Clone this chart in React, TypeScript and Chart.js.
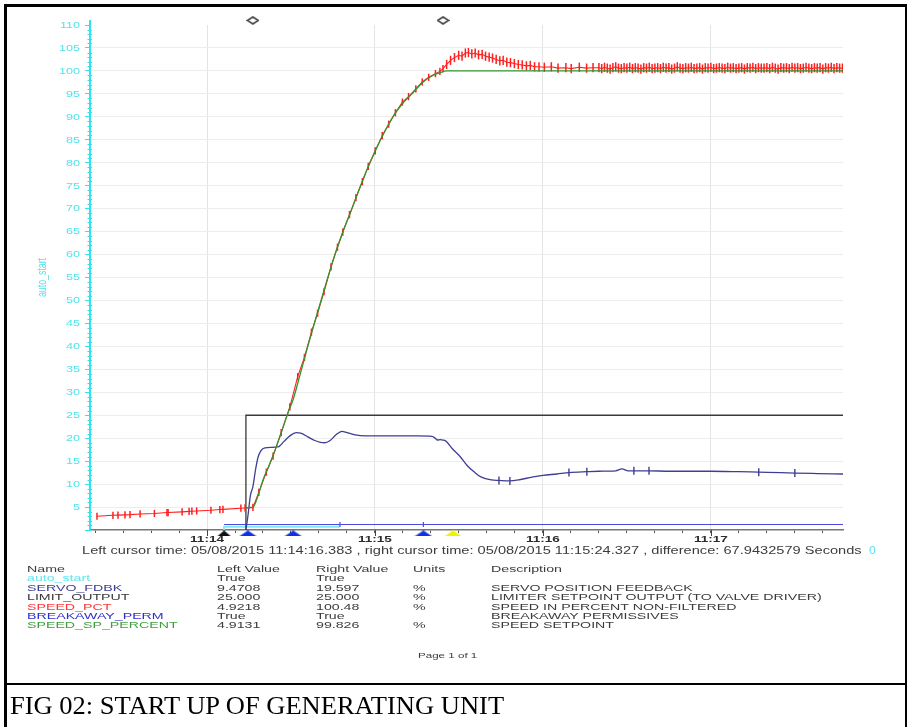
import React, { useEffect, useRef } from "react";
import { Chart, registerables } from "chart.js";

Chart.register(...registerables);

// Time axis: seconds after 11:13:00 on 05/08/2015.
const TIME_MIN = 18.2;
const TIME_MAX = 287.2;
const TIME_TICKS = [20, 30, 40, 50, 60, 70, 80, 90, 100, 110, 120, 130, 140, 150, 160, 170, 180, 190, 200, 210, 220, 230, 240, 250, 260, 270, 280];
const MINUTE_TICKS = [60, 120, 180, 240];
const MINUTE_LABELS = ["11:14", "11:15", "11:16", "11:17"];
const Y_TICKS = [0, 5, 10, 15, 20, 25, 30, 35, 40, 45, 50, 55, 60, 65, 70, 75, 80, 85, 90, 95, 100, 105, 110];
const Y_TITLE = "auto_start";

// SPEED_PCT: speed in percent, non-filtered (sampled, each sample drawn as a tick)
const SPEED_PCT: [number, number][] = [
  [20.7, 3.0], [26.4, 3.2], [28.2, 3.25], [30.7, 3.3], [32.5, 3.35], [36.1, 3.5], [41.2, 3.6], [45.7, 3.8],
  [46.1, 3.8], [51.1, 3.95], [53.6, 4.05], [54.6, 4.1], [56.3, 4.15], [61.4, 4.3], [64.6, 4.45], [65.7, 4.5],
  [72.1, 4.75], [73.6, 4.8], [76.4, 4.92], [78.5, 8.2], [81.2, 12.6], [83.6, 16.1], [86.5, 21.2], [89.6, 26.8],
  [92.4, 33.4], [94.8, 37.6], [97.3, 43.1], [99.5, 47.2], [101.8, 51.9], [104.3, 57.3], [106.6, 61.6],
  [108.5, 64.9], [110.9, 68.7], [113.2, 72.4], [115.5, 75.9], [117.6, 79.2], [120.1, 82.6], [122.6, 85.9],
  [124.9, 88.4], [127.3, 90.9], [129.8, 93.2], [132.0, 94.4], [134.6, 96.1], [136.9, 97.6], [139.2, 98.6],
  [141.6, 99.4], [143.2, 99.9], [144.3, 100.48], [145.6, 101.4], [147.0, 102.3], [148.4, 102.9], [149.9, 103.4],
  [151.1, 103.2], [152.3, 103.9], [153.4, 104.0], [154.6, 103.7], [155.8, 103.9], [157.0, 103.5], [158.3, 103.6],
  [159.5, 103.2], [160.8, 103.0], [162.0, 102.8], [163.3, 102.5], [164.6, 102.2], [165.8, 102.3], [167.1, 101.9],
  [168.4, 101.8], [169.8, 101.6], [171.2, 101.4], [172.6, 101.3], [174.1, 101.1], [175.5, 101.2], [177.0, 100.9],
  [178.6, 100.9], [180.5, 100.8], [183.0, 100.9], [185.4, 100.6], [188.2, 100.7], [190.1, 100.5], [193.0, 100.8],
  [195.6, 100.6], [197.9, 100.7],
];
// SPEED_PCT from 200 s on, one sample per second
const SPEED_PCT_TAIL_START = 200;
const SPEED_PCT_TAIL = [
  100.7, 100.5, 100.8, 100.6, 100.4, 100.7, 100.9, 100.6, 100.5, 100.7,
  100.6, 100.8, 100.5, 100.7, 100.6, 100.4, 100.7, 100.6, 100.8, 100.5,
  100.6, 100.7, 100.5, 100.8, 100.6, 100.7, 100.4, 100.6, 100.9, 100.6,
  100.5, 100.7, 100.6, 100.8, 100.5, 100.6, 100.7, 100.4, 100.7, 100.6,
  100.8, 100.5, 100.6, 100.7, 100.6, 100.5, 100.8, 100.6, 100.7, 100.5,
  100.6, 100.7, 100.4, 100.7, 100.6, 100.8, 100.5, 100.7, 100.6, 100.6,
  100.7, 100.5, 100.8, 100.6, 100.4, 100.7, 100.6, 100.7, 100.5, 100.8,
  100.6, 100.7, 100.5, 100.6, 100.8, 100.6, 100.5, 100.7, 100.6, 100.7,
  100.4, 100.7, 100.6, 100.8, 100.5, 100.7, 100.6, 100.6,
];

// SPEED_SP_PERCENT: speed setpoint
const SPEED_SP_PERCENT: [number, number][] = [
  [73.6, 4.8], [75.4, 4.9], [76.4, 4.91], [77.5, 6.2], [78.7, 8.4], [80.0, 10.9], [82.0, 13.8], [84.3, 17.4],
  [86.5, 21.2], [88.9, 25.5], [90.7, 28.3], [93.0, 33.3], [96.0, 40.0], [99.0, 46.4], [102.0, 52.6],
  [105.7, 60.0], [108.7, 65.2], [111.8, 70.0], [115.0, 75.2], [118.2, 80.0], [122.0, 85.0], [126.4, 90.0],
  [129.7, 92.8], [133.2, 95.0], [137.0, 97.5], [141.0, 99.1], [144.3, 99.83], [145.4, 100.0], [287.2, 100.0],
];

// SERVO_FDBK: servo position feedback
const SERVO_FDBK: [number, number][] = [
  [73.9, 0], [74.6, 3], [75.5, 7.5], [76.4, 9.47], [77.3, 13], [78.2, 15.8], [79.3, 17.3], [80.7, 17.9],
  [83.0, 18.0], [85.4, 18.1], [87.5, 19.3], [89.6, 20.5], [91.8, 21.2], [93.5, 21.1], [96.0, 20.3],
  [98.5, 19.5], [100.5, 19.1], [102.0, 19.0], [104.0, 19.5], [106.0, 20.7], [108.2, 21.5], [110.0, 21.2],
  [113.0, 20.7], [116.5, 20.5], [125.0, 20.5], [135.0, 20.5], [140.4, 20.4], [141.5, 20.0], [142.3, 19.6],
  [143.3, 19.7], [144.3, 19.6], [145.5, 19.3], [147.5, 17.8], [150.4, 16.0], [153.0, 14.0], [155.7, 12.5],
  [158.0, 11.5], [161.6, 10.9], [164.3, 10.8], [168.2, 10.7], [172.0, 11.0], [176.0, 11.5], [180.0, 11.9],
  [185.0, 12.2], [189.3, 12.5], [195.7, 12.7], [200.0, 12.8], [206.0, 12.9], [208.2, 13.3], [210.5, 12.9],
  [212.5, 12.9], [217.9, 12.9], [225.0, 12.8], [240.0, 12.8], [250.0, 12.7], [257.1, 12.6], [265.0, 12.5],
  [270.0, 12.4], [278.0, 12.3], [287.2, 12.2],
];
const SERVO_MARKS = [164.3, 168.2, 189.3, 195.7, 212.5, 217.9, 257.1, 270.0];

// LIMIT_OUTPUT: limiter setpoint output
const LIMIT_OUTPUT: [number, number][] = [[73.9, 0], [73.9, 25], [287.2, 25]];

// Digital signals (drawn at the foot of the plot)
const AUTO_START: [number, number][] = [[66.1, 0], [66.1, 0.7], [107.5, 0.7]];
const BREAKAWAY_PERM: [number, number][] = [[66.1, 1.2], [107.5, 1.2], [137.3, 1.2], [287.2, 1.2]];
const BREAKAWAY_MARKS = [107.5, 137.3];

// Cursors and event markers
const CURSOR_TIMES = [76.383, 144.327];
const CURSOR_LEVEL = 111;
const EVENT_TIMES = [66.1, 74.6, 90.8, 137.3, 147.9];
const EVENT_KINDS = ["black", "blue", "blue", "blue", "yellow"];
const EVENT_LEVEL = -0.76;

// Readout below the plot
const LEFT_CURSOR = "05/08/2015 11:14:16.383";
const RIGHT_CURSOR = "05/08/2015 11:15:24.327";
const DIFFERENCE = "67.9432579";
const TABLE_HEADERS = ["Name", "Left Value", "Right Value", "Units", "Description"];
const NAMES = ["auto_start", "SERVO_FDBK", "LIMIT_OUTPUT", "SPEED_PCT", "BREAKAWAY_PERM", "SPEED_SP_PERCENT"];
const LEFT_VALUES = ["True", "9.4708", "25.000", "4.9218", "True", "4.9131"];
const RIGHT_VALUES = ["True", "19.597", "25.000", "100.48", "True", "99.826"];
const UNITS = ["", "%", "%", "%", "", "%"];
const DESCRIPTIONS = [
  "",
  "SERVO POSITION FEEDBACK",
  "LIMITER SETPOINT OUTPUT (TO VALVE DRIVER)",
  "SPEED IN PERCENT NON-FILTERED",
  "BREAKAWAY PERMISSIVES",
  "SPEED SETPOINT",
];
const PAGE_TEXT = "Page 1 of 1";
const CAPTION = "FIG 02: START UP OF GENERATING UNIT";

// Styles
const CYAN = "#2fe4ee";
const CYAN_TEXT = "#52e3ec";
const RED = "#ff1f1f";
const GREEN = "#2f962f";
const SERVO_BLUE = "#3e3e94";
const LIMIT_BLACK = "#3a3a3a";
const BREAK_BLUE = "#4a4ae0";
const GRID = "#e4e4e4";
const TEXT_GRAY = "#3c3c3c";
const NAME_COLORS: Record<string, string> = {
  auto_start: "#5fe6f0",
  SERVO_FDBK: "#3e3e94",
  LIMIT_OUTPUT: "#3a3a3a",
  SPEED_PCT: "#ff3535",
  BREAKAWAY_PERM: "#3030c8",
  SPEED_SP_PERCENT: "#3f9f3f",
};
const EVENT_COLORS: Record<string, string> = { black: "#111111", blue: "#1530e0", yellow: "#f2f200" };
const SANS = '"Liberation Sans", Arial, sans-serif';

const toXY = (pairs: [number, number][]) => pairs.map(([x, y]) => ({ x, y }));

function triangleImage(color: string, w: number, h: number) {
  const c = document.createElement("canvas");
  c.width = w;
  c.height = h;
  const g = c.getContext("2d")!;
  g.fillStyle = color;
  g.beginPath();
  g.moveTo(0, h);
  g.lineTo(w / 2, 0);
  g.lineTo(w, h);
  g.closePath();
  g.fill();
  return c;
}

function diamondImage() {
  const c = document.createElement("canvas");
  c.width = 13;
  c.height = 9;
  const g = c.getContext("2d")!;
  g.fillStyle = "#ffffff";
  g.strokeStyle = "#444444";
  g.lineWidth = 1.6;
  g.beginPath();
  g.moveTo(6.5, 1);
  g.lineTo(12, 4.5);
  g.lineTo(6.5, 8);
  g.lineTo(1, 4.5);
  g.closePath();
  g.fill();
  g.stroke();
  return c;
}

// Axis labels are drawn here so they can be widened like the rest of the print-out.
const axisLabels = {
  id: "axisLabels",
  afterDraw(chart: any) {
    const { ctx, chartArea } = chart;
    const x = chart.scales.x;
    const y = chart.scales.y;
    ctx.save();

    // y axis above the top tick and minor ticks
    ctx.strokeStyle = CYAN;
    ctx.lineWidth = 2;
    ctx.beginPath();
    ctx.moveTo(chartArea.left, chartArea.top - 5);
    ctx.lineTo(chartArea.left, chartArea.top);
    ctx.stroke();
    ctx.lineWidth = 1;
    for (let v = 1; v < 110; v++) {
      if (v % 5 === 0) continue;
      const py = Math.round(y.getPixelForValue(v)) + 0.5;
      ctx.beginPath();
      ctx.moveTo(chartArea.left - 2.5, py);
      ctx.lineTo(chartArea.left + 2, py);
      ctx.stroke();
    }

    // y tick labels
    ctx.fillStyle = CYAN_TEXT;
    ctx.font = `8.5px ${SANS}`;
    ctx.textAlign = "right";
    ctx.textBaseline = "middle";
    Y_TICKS.filter((v) => v > 0).forEach((v) => {
      ctx.save();
      ctx.translate(chartArea.left - 10, y.getPixelForValue(v) + 0.5);
      ctx.scale(1.48, 1);
      ctx.fillText(String(v), 0, 0);
      ctx.restore();
    });

    // y title
    ctx.save();
    ctx.translate(42, (chartArea.top + chartArea.bottom) / 2);
    ctx.rotate(-Math.PI / 2);
    ctx.scale(1, 1.45);
    ctx.font = `8.8px ${SANS}`;
    ctx.textAlign = "center";
    ctx.fillText(Y_TITLE, 0, 0);
    ctx.restore();

    // minute labels
    ctx.fillStyle = "#2e2e2e";
    ctx.font = `bold 9.8px ${SANS}`;
    ctx.textAlign = "center";
    MINUTE_TICKS.forEach((t, i) => {
      const px = x.getPixelForValue(t);
      ctx.strokeStyle = "#444";
      ctx.lineWidth = 1;
      ctx.beginPath();
      ctx.moveTo(Math.round(px) + 0.5, chartArea.bottom);
      ctx.lineTo(Math.round(px) + 0.5, chartArea.bottom + 6);
      ctx.stroke();
      ctx.save();
      ctx.translate(px, chartArea.bottom + 9.5);
      ctx.scale(1.38, 1);
      ctx.fillText(MINUTE_LABELS[i], 0, 0);
      ctx.restore();
    });
    ctx.restore();
  },
};

function SText(props: {
  x: number;
  y: number;
  text: string;
  size: number;
  sx: number;
  color: string;
  family?: string;
}) {
  const { x, y, text, size, sx, color, family } = props;
  return (
    <text
      transform={`translate(${x} ${y}) scale(${sx} 1)`}
      fontSize={size}
      fill={color}
      fontFamily={family || SANS}
    >
      {text}
    </text>
  );
}

export default function App() {
  const ref = useRef<HTMLCanvasElement>(null);

  useEffect(() => {
    const canvas = ref.current!;
    const eventStyles = EVENT_KINDS.map((k) =>
      k === "black" ? triangleImage(EVENT_COLORS[k], 14, 6) : triangleImage(EVENT_COLORS[k], 18, 6)
    );
    const diamond = diamondImage();

    const speedPct = [
      ...toXY(SPEED_PCT),
      ...SPEED_PCT_TAIL.map((v, i) => ({ x: SPEED_PCT_TAIL_START + i, y: v })),
    ];

    const chart = new Chart(canvas, {
      type: "line",
      data: {
        datasets: [
          {
            label: "cursors",
            data: CURSOR_TIMES.map((t) => ({ x: t, y: CURSOR_LEVEL })),
            showLine: false,
            pointStyle: diamond,
            pointRadius: 7,
            clip: false,
            order: 0,
          },
          {
            label: "events",
            data: EVENT_TIMES.map((t) => ({ x: t, y: EVENT_LEVEL })),
            showLine: false,
            pointStyle: eventStyles,
            pointRadius: 7,
            clip: false,
            order: 0,
          },
          {
            label: "SPEED_SP_PERCENT",
            data: toXY(SPEED_SP_PERCENT),
            borderColor: GREEN,
            borderWidth: 1.3,
            pointRadius: 0,
            cubicInterpolationMode: "monotone",
            order: 1,
          },
          {
            label: "SPEED_PCT",
            data: speedPct,
            borderColor: RED,
            borderWidth: 1.1,
            pointStyle: "line",
            pointRotation: 90,
            pointRadius: (c: any) => (c.raw && c.raw.x >= 145 ? 4.6 : 3.6),
            pointBorderColor: RED,
            pointBackgroundColor: RED,
            pointBorderWidth: 1.5,
            order: 2,
          },
          {
            label: "SERVO_FDBK",
            data: toXY(SERVO_FDBK),
            borderColor: SERVO_BLUE,
            borderWidth: 1.3,
            cubicInterpolationMode: "monotone",
            pointStyle: "line",
            pointRotation: 90,
            pointRadius: (c: any) => (SERVO_MARKS.includes(c.raw?.x) ? 4 : 0),
            pointBorderColor: SERVO_BLUE,
            pointBorderWidth: 1.4,
            order: 3,
          },
          {
            label: "LIMIT_OUTPUT",
            data: toXY(LIMIT_OUTPUT),
            borderColor: LIMIT_BLACK,
            borderWidth: 1.3,
            pointRadius: 0,
            order: 4,
          },
          {
            label: "BREAKAWAY_PERM",
            data: toXY(BREAKAWAY_PERM),
            borderColor: BREAK_BLUE,
            borderWidth: 1.2,
            pointStyle: "line",
            pointRotation: 90,
            pointRadius: (c: any) => (BREAKAWAY_MARKS.includes(c.raw?.x) ? 2.5 : 0),
            pointBorderColor: BREAK_BLUE,
            pointBorderWidth: 1.2,
            clip: false,
            order: 5,
          },
          {
            label: "auto_start",
            data: toXY(AUTO_START),
            borderColor: "#7fe9f5",
            borderWidth: 2,
            pointRadius: 0,
            clip: false,
            order: 6,
          },
        ],
      },
      options: {
        animation: false,
        responsive: false,
        devicePixelRatio: 1,
        events: [],
        layout: { padding: { left: 0, right: 67, top: 25, bottom: 0 } },
        plugins: { legend: { display: false }, tooltip: { enabled: false } },
        scales: {
          x: {
            type: "linear",
            min: TIME_MIN,
            max: TIME_MAX,
            afterBuildTicks: (s: any) => {
              s.ticks = TIME_TICKS.map((v) => ({ value: v }));
            },
            afterFit: (s: any) => {
              s.height = 30;
            },
            ticks: { display: false },
            grid: {
              color: (c: any) => (MINUTE_TICKS.includes(c.tick?.value) ? GRID : "rgba(0,0,0,0)"),
              tickColor: "#555",
              tickLength: 3,
              lineWidth: 1,
            },
            border: { display: true, color: "#767676", width: 1.5 },
          },
          y: {
            type: "linear",
            min: 0,
            max: 110,
            afterBuildTicks: (s: any) => {
              s.ticks = Y_TICKS.map((v) => ({ value: v }));
            },
            afterFit: (s: any) => {
              s.width = 90;
            },
            ticks: { display: false },
            grid: {
              color: (c: any) => (c.tick && c.tick.value > 0 && c.tick.value < 110 ? "#ececec" : "rgba(0,0,0,0)"),
              tickColor: CYAN,
              tickLength: 5,
              lineWidth: 1,
            },
            border: { display: true, color: CYAN, width: 2 },
          },
        },
      } as any,
      plugins: [axisLabels],
    });
    return () => chart.destroy();
  }, []);

  const rowBase = 571.7;
  const rowStep = 9.45;
  const colX = [27, 217, 316, 413, 491];
  const tSize = 9.6;
  const tSx = 1.48;

  return (
    <div
      style={{
        position: "absolute",
        left: 0,
        top: 0,
        width: 910,
        height: 727,
        background: "#ffffff",
        overflow: "hidden",
      }}
    >
      <canvas ref={ref} width={910} height={560} style={{ position: "absolute", left: 0, top: 0 }} />
      <svg width={910} height={727} style={{ position: "absolute", left: 0, top: 0 }}>
        <SText
          x={82}
          y={553.5}
          size={11}
          sx={1.33}
          color={TEXT_GRAY}
          text={`Left cursor time: ${LEFT_CURSOR} , right cursor time: ${RIGHT_CURSOR} , difference: ${DIFFERENCE} Seconds`}
        />
        <SText x={869} y={553.5} size={10} sx={1.2} color={CYAN_TEXT} text="0" />
        {TABLE_HEADERS.map((h, i) => (
          <SText key={h} x={colX[i]} y={rowBase} size={tSize} sx={tSx} color={TEXT_GRAY} text={h} />
        ))}
        {NAMES.map((n, r) => {
          const yy = rowBase + rowStep * (r + 1);
          return (
            <g key={n}>
              <SText x={colX[0]} y={yy} size={tSize} sx={tSx} color={NAME_COLORS[n]} text={n} />
              <SText x={colX[1]} y={yy} size={tSize} sx={tSx} color={TEXT_GRAY} text={LEFT_VALUES[r]} />
              <SText x={colX[2]} y={yy} size={tSize} sx={tSx} color={TEXT_GRAY} text={RIGHT_VALUES[r]} />
              <SText x={colX[3]} y={yy} size={tSize} sx={tSx} color={TEXT_GRAY} text={UNITS[r]} />
              <SText x={colX[4]} y={yy} size={tSize} sx={tSx} color={TEXT_GRAY} text={DESCRIPTIONS[r]} />
            </g>
          );
        })}
        <SText x={418} y={658} size={8} sx={1.45} color={TEXT_GRAY} text={PAGE_TEXT} />
        <SText
          x={10}
          y={714}
          size={26}
          sx={1.02}
          color="#000000"
          family='"Liberation Serif", "Times New Roman", serif'
          text={CAPTION}
        />
      </svg>
      {/* page frame */}
      <div style={{ position: "absolute", left: 4, top: 4, width: 903, height: 3, background: "#000" }} />
      <div style={{ position: "absolute", left: 4, top: 4, width: 3, height: 723, background: "#000" }} />
      <div style={{ position: "absolute", left: 905, top: 4, width: 2, height: 723, background: "#000" }} />
      <div style={{ position: "absolute", left: 4, top: 683, width: 903, height: 2, background: "#000" }} />
    </div>
  );
}
